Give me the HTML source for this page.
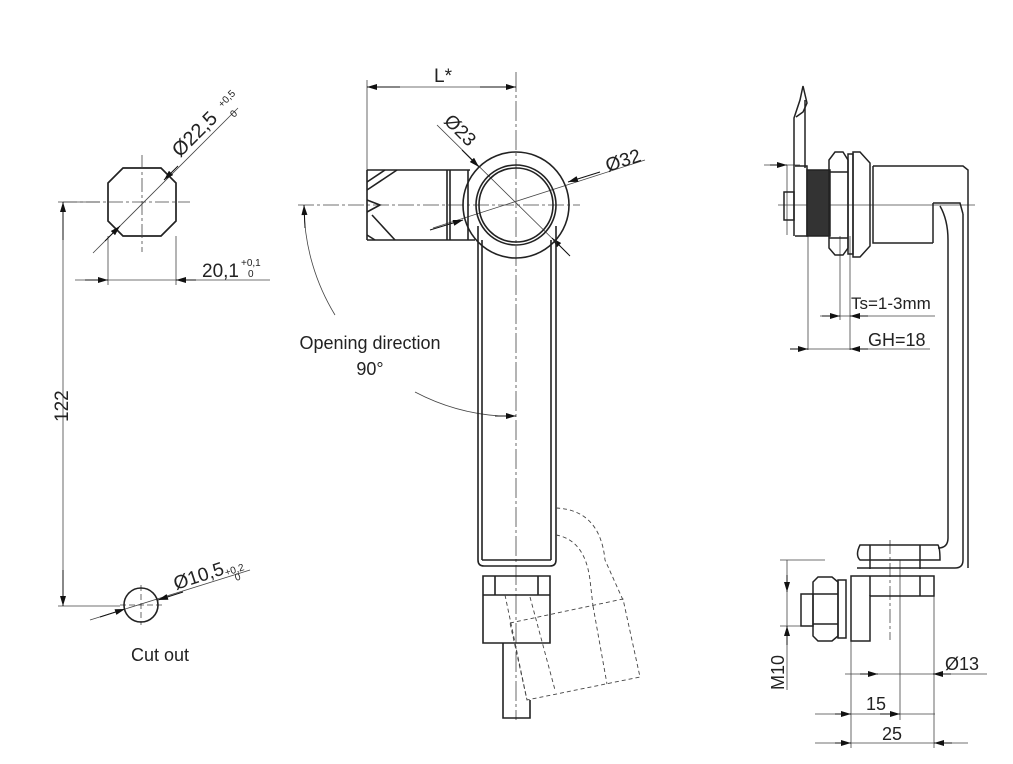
<!DOCTYPE html>
<html><head><meta charset="utf-8"><style>
html,body{margin:0;padding:0;background:#fff;width:1013px;height:764px;overflow:hidden}
text{font-family:"Liberation Sans",sans-serif;fill:#222}
</style></head><body>
<svg width="1013" height="764" viewBox="0 0 1013 764" xmlns="http://www.w3.org/2000/svg">
<defs>
<marker id="a" viewBox="0 0 10 6" refX="10" refY="3" markerWidth="11" markerHeight="6" orient="auto-start-reverse" markerUnits="userSpaceOnUse"><path d="M0,0L10,3L0,6z" fill="#111"/></marker>
</defs>
<g stroke="#222" fill="none" stroke-width="1.7">
<path d="M123,168H161L176,183V221L161,236H123L108,221V183Z"/>
</g>
<g stroke="#444" fill="none" stroke-width="0.8">
<path d="M63,202H190" stroke-dasharray="14,3,3,3"/>
<path d="M142,155V252" stroke-dasharray="14,3,3,3"/>
<path d="M93,253L238,108"/>
<path d="M108,236V285M176,236V285"/>
<path d="M75,280H270"/>
<path d="M58,202H100M58,606H120"/>
<path d="M63,202V606"/>
<path d="M90,620L250,570"/>
<path d="M141,585V625M120,605H162" stroke-dasharray="6,3"/>
</g>
<g stroke="#111" stroke-width="1" fill="none">
<path d="M105,241L120,226" marker-end="url(#a)"/>
<path d="M178,166L164,180" marker-end="url(#a)"/>
<path d="M85,280H108" marker-end="url(#a)"/>
<path d="M196,280H176" marker-end="url(#a)"/>
<path d="M63,240V202" marker-end="url(#a)"/>
<path d="M63,570V606" marker-end="url(#a)"/>
<path d="M100,617L125,609" marker-end="url(#a)"/>
<path d="M183,592L158,600" marker-end="url(#a)"/>
</g>
<circle cx="141" cy="605" r="17" stroke="#222" stroke-width="1.6" fill="none"/>
<text font-size="20" transform="translate(180,158) rotate(-45)">Ø22,5</text>
<text font-size="10" transform="translate(222,108) rotate(-45)">+0,5</text>
<text font-size="10" transform="translate(234,118) rotate(-45)">0</text>
<text x="202" y="277" font-size="19">20,1</text>
<text x="241" y="266" font-size="10">+0,1</text>
<text x="248" y="277" font-size="10">0</text>
<text font-size="19" transform="translate(68,422) rotate(-90)">122</text>
<text font-size="19" transform="translate(176,590) rotate(-18)">Ø10,5</text>
<text font-size="10" transform="translate(226,576) rotate(-18)">+0,2</text>
<text font-size="10" transform="translate(236,581) rotate(-18)">0</text>
<text x="160" y="661" font-size="18" text-anchor="middle">Cut out</text>

<!-- MIDDLE VIEW -->
<g stroke="#444" fill="none" stroke-width="0.8">
<path d="M298,205H580" stroke-dasharray="16,3,3,3"/>
<path d="M516,72V720" stroke-dasharray="20,3,3,3"/>
<path d="M367,80V170"/>
<path d="M367,87H516"/>
<path d="M437,125L568,254"/>
<path d="M433,228L645,160"/>
<path d="M335,315A212,212 0 0 1 304,210"/>
<path d="M415,392A212,212 0 0 0 500,416"/>
</g>
<g stroke="#111" stroke-width="1" fill="none">
<path d="M400,87H367" marker-end="url(#a)"/>
<path d="M480,87H516" marker-end="url(#a)"/>
<path d="M462,150L479,167" marker-end="url(#a)"/>
<path d="M570,256L552,238" marker-end="url(#a)"/>
<path d="M600,172L568,182" marker-end="url(#a)"/>
<path d="M430,230L463,220" marker-end="url(#a)"/>
<path d="M305,228L304,205" marker-end="url(#a)"/>
<path d="M495,416H516" marker-end="url(#a)"/>
</g>
<g stroke="#222" fill="none" stroke-width="1.6">
<path d="M367,170H470M367,240H475M367,170V240"/>
<path d="M447,170V240M450,170V240M468,170V240"/>
<path d="M367,190L397,170M367,235L375,240M367,182L385,170M372,215L395,240M367,200L380,205L367,212"/>
<circle cx="516" cy="205" r="53"/>
<circle cx="516" cy="205" r="40"/>
<circle cx="516" cy="205" r="37"/>
<path d="M478,226V560Q478,566 484,566H550Q556,566 556,560V226"/>
<path d="M482,240V560M551,240V560"/>
<path d="M482,560H551"/>
<path d="M483,576H550V643H483Z"/>
<path d="M483,595H550M495,576V595M538,576V595"/>
<path d="M503,643V718H530V700"/>
</g>
<g stroke="#444" fill="none" stroke-width="0.9" stroke-dasharray="4,3">
<path d="M556,508Q600,510 605,560L623,600"/>
<path d="M556,535Q585,540 590,580L593,606"/>
<path d="M510,623L623,599L640,677L527,700Z"/>
<path d="M505,595L527,700M530,597L555,690M593,606L607,684"/>
</g>
<text x="370" y="349" font-size="18" text-anchor="middle">Opening direction</text>
<text x="370" y="375" font-size="18" text-anchor="middle">90°</text>
<text x="434" y="82" font-size="19">L*</text>
<text font-size="19" transform="translate(443,122) rotate(45)">Ø23</text>
<text font-size="19" transform="translate(608,172) rotate(-18)">Ø32</text>

<!-- RIGHT VIEW -->
<g stroke="#444" fill="none" stroke-width="0.8">
<path d="M778,205H975"/>
<path d="M787,165V235M764,165H800"/>
<path d="M808,236V350M840,236V320M850,236V350"/>
<path d="M820,316H935M790,349H930"/>
<path d="M787,560V690M780,560H825M780,626H810"/>
<path d="M851,640V748M934,596V748M900,560V720"/>
<path d="M845,674H987M815,714H935M815,743H968"/>
<path d="M890,540V640" stroke-dasharray="14,3,3,3"/>
</g>
<g stroke="#111" stroke-width="1" fill="none">
<path d="M770,165H787" marker-end="url(#a)"/>
<path d="M822,316H840" marker-end="url(#a)"/>
<path d="M868,316H850" marker-end="url(#a)"/>
<path d="M790,349H808" marker-end="url(#a)"/>
<path d="M868,349H850" marker-end="url(#a)"/>
<path d="M787,575V592" marker-end="url(#a)"/>
<path d="M787,645V626" marker-end="url(#a)"/>
<path d="M860,674H878" marker-end="url(#a)"/>
<path d="M951,674H933" marker-end="url(#a)"/>
<path d="M835,714H851" marker-end="url(#a)"/>
<path d="M880,714H900" marker-end="url(#a)"/>
<path d="M835,743H851" marker-end="url(#a)"/>
<path d="M952,743H934" marker-end="url(#a)"/>
</g>
<g stroke="#222" fill="none" stroke-width="1.5">
<path d="M794,236V118L800,100L803,86L807,103L803,112L796,117"/>
<path d="M805,100V168"/>
<path d="M795,166H807V236H795"/>
<rect x="784" y="192" width="10" height="28"/>
<rect x="807" y="170" width="23" height="66" fill="#333"/>
<path d="M829,160L835,152H843L848,160V248L843,255H835L829,248Z"/>
<path d="M829,172H848M829,238H848"/>
<rect x="848" y="154" width="5" height="100"/>
<path d="M853,152H860L870,163V246L860,257H853Z"/>
<path d="M873,166H963L968,170V220M873,166V243H933"/>
<path d="M933,203H960L963,214M933,203V243M940,206Q948,220 948,240V538Q948,548 938,548"/>
<path d="M963,214V560Q963,568 955,568H857"/>
<path d="M968,220V568"/>
<path d="M862,545H938Q940,548 940,560H860Q855,555 860,545Z"/>
<path d="M870,545V569M920,545V569"/>
<path d="M851,576H934V596H870V641H851Z"/>
<path d="M870,576V596M920,576V596"/>
<rect x="838" y="580" width="8" height="58"/>
<path d="M813,582L818,577H832L838,582V636L832,641H818L813,636Z"/>
<path d="M813,594H838M813,624H838"/>
<rect x="801" y="594" width="12" height="32"/>
</g>
<text x="851" y="309" font-size="17">Ts=1-3mm</text>
<text x="868" y="346" font-size="18">GH=18</text>
<text font-size="18" transform="translate(784,690) rotate(-90)">M10</text>
<text x="945" y="670" font-size="18">Ø13</text>
<text x="866" y="710" font-size="18">15</text>
<text x="882" y="740" font-size="18">25</text>
</svg>
</body></html>
